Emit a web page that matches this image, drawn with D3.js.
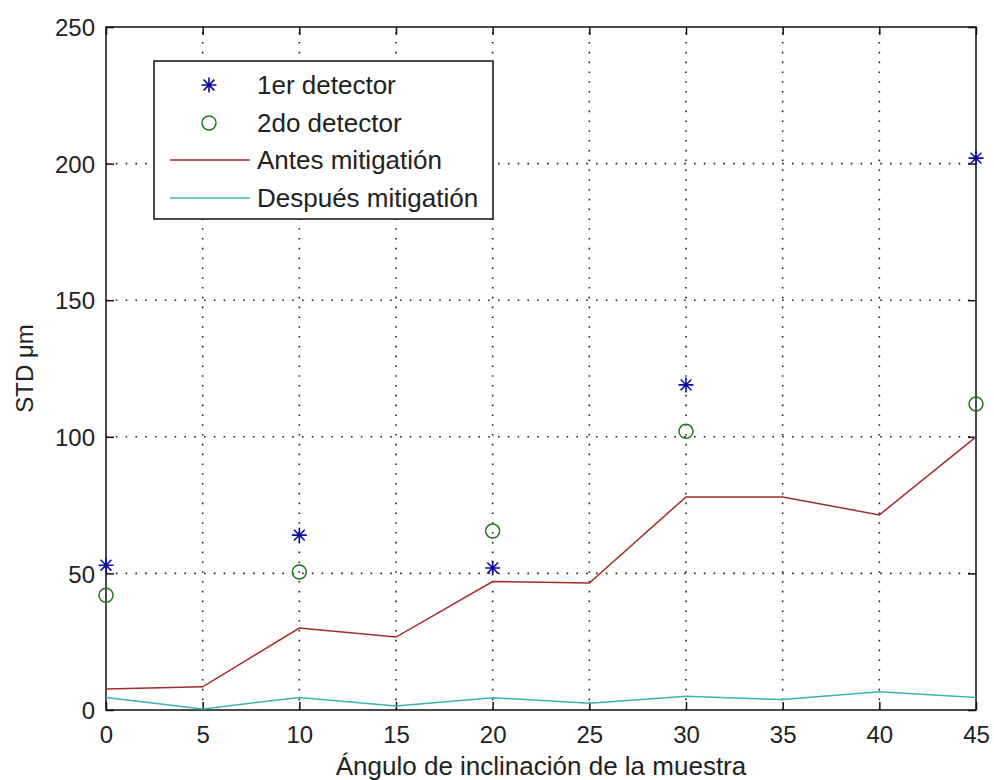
<!DOCTYPE html>
<html>
<head>
<meta charset="utf-8">
<script src="https://cdn.jsdelivr.net/npm/d3@7"></script>
<style>
  html, body { margin: 0; padding: 0; background: #ffffff; }
  svg { display: block; }
  text { font-family: "Liberation Sans", Arial, Helvetica, sans-serif; fill: #222; }
</style>
</head>
<body>
<svg id="chart" width="994" height="780"></svg>
<script>
// ---- data ----
const angles = [0, 5, 10, 15, 20, 25, 30, 35, 40, 45];
const det1Angles = [0, 10, 20, 30, 45];
const det1Values = [53, 64, 52, 119, 202];
const det2Angles = [0, 10, 20, 30, 45];
const det2Values = [42, 50.5, 65.5, 102, 112];
const antesValues = [7.7, 8.5, 30, 26.7, 47, 46.5, 78, 78, 71.4, 100];
const despuesValues = [4.6, 0.4, 4.6, 1.5, 4.5, 2.5, 5, 3.8, 6.7, 4.6];
const xTicks = [0, 5, 10, 15, 20, 25, 30, 35, 40, 45];
const yTicks = [0, 50, 100, 150, 200, 250];
const legendLabels = ["1er detector", "2do detector", "Antes mitigatión", "Después mitigatión"];
const xLabel = "Ángulo de inclinación de la muestra";
const yLabel = "STD \u03bcm";

// ---- layout ----
const L = 106, R = 976, T = 27, B = 710;
const svg = d3.select("#chart");
const x = d3.scaleLinear().domain([0, 45]).range([L, R]);
const y = d3.scaleLinear().domain([0, 250]).range([B, T]);

const colRed = "#a52a2a", colCyan = "#3cb4b4", colBlue = "#0a0aa0", colGreen = "#1f7a1f";

// grid
const grid = svg.append("g");
grid.selectAll("line.gx").data(xTicks.filter(d => d > 0 && d < 45)).enter().append("line")
  .attr("x1", d => x(d)).attr("x2", d => x(d)).attr("y1", B).attr("y2", T)
  .attr("stroke", "#222").attr("stroke-width", 1.6).attr("stroke-dasharray", "1.6,8.2");
grid.selectAll("line.gy").data(yTicks.filter(d => d > 0 && d < 250)).enter().append("line")
  .attr("y1", d => y(d)).attr("y2", d => y(d)).attr("x1", L).attr("x2", R)
  .attr("stroke", "#222").attr("stroke-width", 1.6).attr("stroke-dasharray", "1.6,8.2");

// axes (ticks inward)
const tickLen = 8;
const axB = svg.append("g").attr("transform", `translate(0,${B})`)
  .call(d3.axisBottom(x).tickValues(xTicks).tickSize(-tickLen).tickPadding(16).tickFormat(d3.format("d")));
const axT = svg.append("g").attr("transform", `translate(0,${T})`)
  .call(d3.axisTop(x).tickValues(xTicks).tickSize(-tickLen).tickFormat(""));
const axL = svg.append("g").attr("transform", `translate(${L},0)`)
  .call(d3.axisLeft(y).tickValues(yTicks).tickSize(-tickLen).tickPadding(11).tickFormat(d3.format("d")));
const axR = svg.append("g").attr("transform", `translate(${R},0)`)
  .call(d3.axisRight(y).tickValues(yTicks).tickSize(-tickLen).tickFormat(""));
[axB, axT, axL, axR].forEach(a => {
  a.select(".domain").remove();
  a.selectAll(".tick line").attr("stroke", "#111").attr("stroke-width", 1.5);
  a.selectAll("text").style("font-size", "24px").attr("fill", "#222")
    .style("font-family", "'Liberation Sans', Arial, sans-serif");
});
axB.selectAll("text").attr("dy", "0.71em");
axL.selectAll("text").attr("dy", "0.36em");

// box
svg.append("rect").attr("x", L).attr("y", T).attr("width", R - L).attr("height", B - T)
  .attr("fill", "none").attr("stroke", "#111").attr("stroke-width", 1.5);

// lines
const line = d3.line().x((d, i) => x(angles[i])).y(d => y(d));
svg.append("path").datum(antesValues).attr("d", line)
  .attr("fill", "none").attr("stroke", colRed).attr("stroke-width", 1.5);
svg.append("path").datum(despuesValues).attr("d", line)
  .attr("fill", "none").attr("stroke", colCyan).attr("stroke-width", 1.5);

// markers
function starPath(r) {
  const d = r * 0.72;
  return `M${-r},0L${r},0M0,${-r}L0,${r}M${-d},${-d}L${d},${d}M${-d},${d}L${d},${-d}`;
}
svg.append("g").selectAll("path").data(det1Values).enter().append("path")
  .attr("d", starPath(7.5))
  .attr("transform", (d, i) => `translate(${x(det1Angles[i])},${y(d)})`)
  .attr("stroke", colBlue).attr("stroke-width", 1.6).attr("fill", "none");
svg.append("g").selectAll("circle").data(det2Values).enter().append("circle")
  .attr("cx", (d, i) => x(det2Angles[i])).attr("cy", d => y(d)).attr("r", 7)
  .attr("stroke", colGreen).attr("stroke-width", 1.5).attr("fill", "none");

// axis labels
svg.append("text").attr("x", (L + R) / 2).attr("y", 775).attr("text-anchor", "middle")
  .style("font-size", "26px").text(xLabel);
svg.append("text").attr("transform", `translate(33,${(T + B) / 2}) rotate(-90)`)
  .attr("text-anchor", "middle").style("font-size", "24px").text(yLabel);

// legend
const lg = svg.append("g");
lg.append("rect").attr("x", 154).attr("y", 61).attr("width", 339).attr("height", 158)
  .attr("fill", "#fff").attr("stroke", "#111").attr("stroke-width", 1.5);
const rowY = [85, 123, 160, 198];
lg.append("path").attr("d", starPath(7.5)).attr("transform", `translate(209,${rowY[0]})`)
  .attr("stroke", colBlue).attr("stroke-width", 1.6).attr("fill", "none");
lg.append("circle").attr("cx", 209).attr("cy", rowY[1]).attr("r", 7)
  .attr("stroke", colGreen).attr("stroke-width", 1.5).attr("fill", "none");
lg.append("line").attr("x1", 170).attr("x2", 250).attr("y1", rowY[2]).attr("y2", rowY[2])
  .attr("stroke", colRed).attr("stroke-width", 1.5);
lg.append("line").attr("x1", 170).attr("x2", 250).attr("y1", rowY[3]).attr("y2", rowY[3])
  .attr("stroke", colCyan).attr("stroke-width", 1.5);
lg.selectAll("text.lab").data(legendLabels).enter().append("text")
  .attr("x", 257).attr("y", (d, i) => rowY[i]).attr("dy", "0.36em")
  .style("font-size", "26px").text(d => d);
</script>
</body>
</html>
